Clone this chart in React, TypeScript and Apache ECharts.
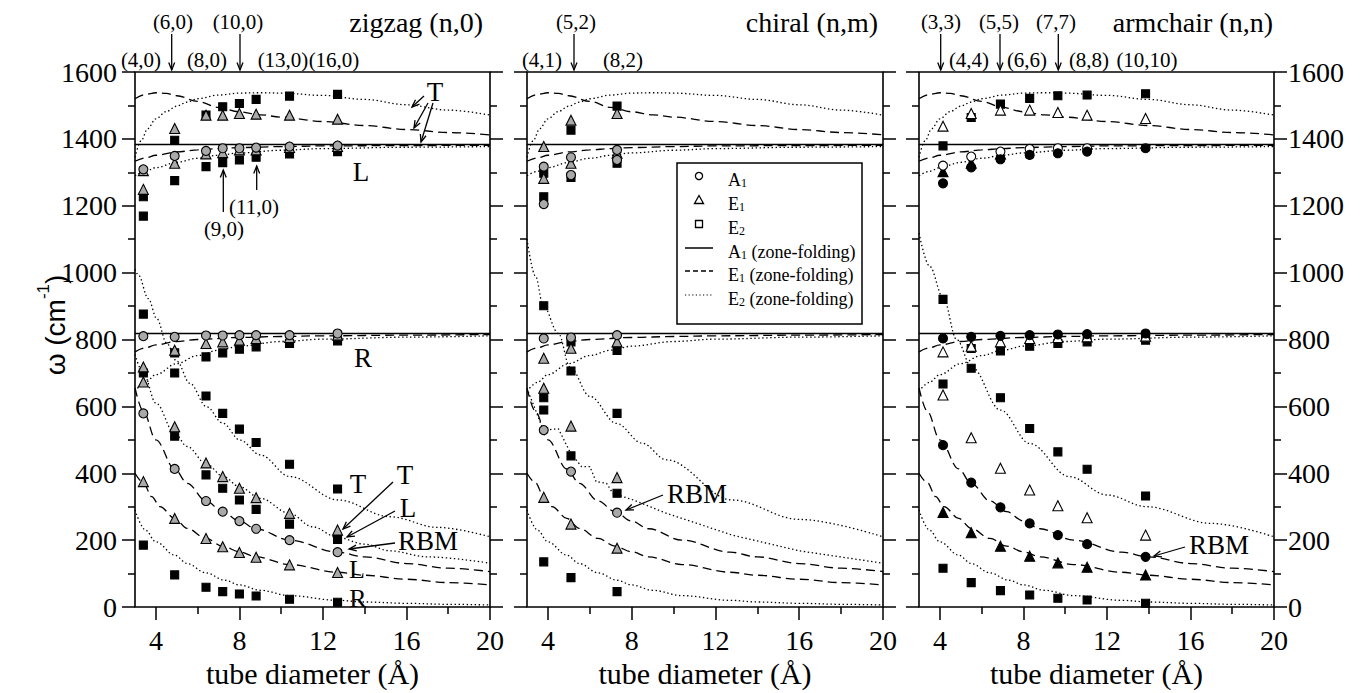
import React, { useEffect, useRef } from "react";
import * as echarts from "echarts";

// ---------- tube diameters (Å) ----------
const zigzagD = [3.4, 4.9, 6.4, 7.2, 8.0, 8.8, 10.4, 12.7];
const chiralD = [3.8, 5.1, 7.3];
const armD = [4.15, 5.5, 6.9, 8.3, 9.65, 11.05, 13.85];

// ---------- zigzag frequencies (cm-1) ----------
const zigzagA1Hi = [1309, 1349, 1364, 1372, 1372, 1374, 1377, 1380];
const zigzagA1Mid = [810, 808, 812, 812, 813, 813, 813, 818];
const zigzagA1Rbm = [579, 413, 317, 285, 257, 234, 200, 164];
const zigzagE1Top = [1249, 1431, 1471, 1471, 1476, 1474, 1471, 1459];
const zigzagE1Hi = [1305, 1327, 1355, 1359, 1367, 1367, 1374, 1377];
const zigzagE1Mid = [718, 768, 788, 793, 798, 803, 806, 813];
const zigzagE1T = [673, 539, 431, 390, 355, 327, 280, 230];
const zigzagE1L = [375, 265, 205, 180, 163, 149, 126, 103];
const zigzagE2Top = [1227, 1396, 1471, 1496, 1506, 1518, 1528, 1533];
const zigzagE2Hi = [1169, 1275, 1317, 1329, 1337, 1345, 1355, 1362];
const zigzagE2HL = [876, 700, 631, 579, 532, 492, 427, 353];
const zigzagE2Mid = [700, 760, 748, 760, 771, 778, 788, 796];
const zigzagE2T = [null, 511, 395, 355, 320, 292, 248, 202];
const zigzagE2R = [185, 96, 59, 46, 39, 33, 23, 14];

// ---------- chiral ----------
const chiralA1Hi = [1317, 1345, 1367];
const chiralA1Hi2 = [1205, 1292, 1337];
const chiralA1Mid = [803, 806, 813];
const chiralA1Rbm = [529, 405, 282];
const chiralE1Top = [1377, 1456, 1476];
const chiralE1Hi = [1282, 1327, 1357];
const chiralE1Mid = [744, 774, 793];
const chiralE1T = [654, 541, 387];
const chiralE1L = [328, 248, 176];
const chiralE2Top = [1297, 1426, 1498];
const chiralE2Hi = [1227, 1285, 1327];
const chiralE2HL = [901, 706, 579];
const chiralE2Mid = [626, 793, 767];
const chiralE2T = [589, 452, 340];
const chiralE2R = [135, 88, 46];

// ---------- armchair ----------
const armA1Open = [1320, 1347, 1362, 1370, 1372, 1372, null];
const armA1Hi = [1267, 1315, 1339, 1352, 1357, 1362, 1372];
const armA1Mid = [803, 808, 811, 813, 815, 816, 818];
const armA1Rbm = [484, 372, 298, 250, 215, 188, 150];
const armE1FilledHi = [1302, 1327, 1355, null, null, null, null];
const armE1L = [283, 222, 182, 152, 132, 119, 96];
const armE1Top = [1438, 1476, 1486, 1486, 1479, 1471, 1461];
const armE1Mid = [763, 780, 793, 803, 806, 808, 810];
const armE1Low = [634, 506, 415, 350, 303, 267, 215];
const armE2Top = [1379, 1464, 1504, 1521, 1529, 1531, 1535];
const armE2HL = [920, 714, 626, 534, 464, 412, 332];
const armE2Mid = [667, 773, 766, 780, 788, 793, 798];
const armE2R = [116, 73, 49, 36, 26, 21, 11];

// ---------- zone-folding curves [d, omega] ----------
const zfA1High = [[3, 1383], [20, 1383]];
const zfA1Low = [[3, 818], [20, 818]];
const zfE1Upper = [[3.0, 1520], [3.5, 1533], [4.0, 1538], [4.5, 1536], [5.0, 1529], [6.0, 1512], [7.0, 1494], [8.0, 1481], [9.0, 1472], [10, 1465], [12, 1452], [14, 1440], [16, 1428], [18, 1419], [20, 1412]];
const zfE2Upper = [[3.0, 1345], [3.3, 1395], [3.6, 1430], [4.0, 1460], [4.5, 1482], [5.0, 1498], [5.5, 1510], [6.0, 1520], [7.0, 1531], [8.0, 1537], [9.0, 1538], [10, 1537], [12, 1530], [14, 1518], [16, 1502], [18, 1486], [20, 1471]];
const zfE1HighRise = [[3.0, 1333], [3.5, 1343], [4, 1351], [5, 1361], [6, 1367], [7, 1371], [8, 1374], [10, 1377], [12, 1379], [16, 1380], [20, 1381]];
const zfE2HighRise = [[3.0, 1290], [3.5, 1303], [4, 1314], [5, 1330], [6, 1342], [7, 1351], [8, 1358], [10, 1366], [12, 1371], [16, 1375], [20, 1377]];
const zfE1LowRise = [[3.0, 763], [3.5, 775], [4, 784], [5, 794], [6, 800], [8, 806], [10, 809], [12, 811], [16, 813], [20, 815]];
const zfE2LowRise = [[3.0, 645], [3.5, 672], [4.0, 695], [5.0, 728], [6, 752], [7, 768], [8, 780], [10, 794], [12, 801], [16, 807], [20, 811]];
const zfRbm = [[3.0, 655], [3.4, 585], [4, 500], [4.9, 413], [5.5, 370], [6.4, 317], [7.2, 285], [8, 257], [8.8, 234], [10.4, 200], [12.7, 164], [14, 150], [16, 130], [18, 116], [20, 106]];
const zfL = [[3.0, 400], [3.4, 372], [3.8, 330], [4.2, 300], [4.9, 265], [5.5, 235], [6.4, 205], [7.2, 182], [8, 165], [8.8, 150], [10.4, 127], [12.7, 104], [14, 95], [16, 83], [18, 73], [20, 66]];
const zfR = [[3.0, 290], [3.5, 230], [4, 195], [4.9, 155], [5.5, 130], [6.4, 102], [7.3, 80], [8, 66], [9, 50], [10.4, 34], [12.7, 20], [14, 15], [16, 11], [18, 8], [20, 6]];
const zfTZigzag = [[3.0, 755], [3.4, 700], [4, 610], [4.9, 519], [5.5, 480], [6.4, 429], [7.2, 392], [8, 360], [9, 325], [10.4, 280], [11.5, 240], [12.7, 208], [14, 188], [15.2, 168], [17, 150], [20, 131]];
const zfTChiral = [[3.06, 644], [3.4, 590], [3.78, 529], [4.5, 533], [5.05, 464], [5.6, 420], [6.0, 420], [6.3, 375], [6.8, 370], [7.1, 340], [8.08, 320], [9.67, 280], [12.8, 215], [16, 168], [20, 131]];
const zfHLZigzag = [[3.0, 1010], [3.16, 993], [3.64, 922], [4.04, 863], [4.52, 789], [5.0, 735], [5.63, 669], [6.43, 599], [7.2, 550], [8.03, 499], [9, 455], [10.42, 390], [12.74, 320], [15.2, 270], [17.5, 238], [20, 210]];
const zfHLChiral = [[3.0, 1100], [3.4, 990], [3.78, 900], [4.5, 818], [5.05, 718], [6.0, 630], [7.28, 549], [8.5, 490], [9.66, 440], [12.8, 320], [16, 262], [20, 210]];
const zfHLArm = [[3.0, 1118], [3.5, 1020], [4.16, 925], [4.8, 800], [5.52, 718], [6.9, 589], [8.3, 489], [10.2, 390], [12, 335], [13.9, 300], [17, 250], [20, 210]];

// ---------- axis ticks / titles ----------
const xMajorTicks = [4, 8, 12, 16, 20];
const xMinorTicks = [6, 10, 14, 18];
const panelTitles = ["zigzag (n,0)", "chiral (n,m)", "armchair (n,n)"];
const xTitle = "tube diameter (Å)";

const SERIF = "Liberation Serif";
const SANS = "Liberation Sans";

const GRIDS = [
  { left: 135, width: 355 },
  { left: 527, width: 356 },
  { left: 919, width: 355 },
];
const TOP = 72;
const HEIGHT = 535;

function pairs(d: number[], v: (number | null)[]) {
  const out: number[][] = [];
  d.forEach((x, i) => {
    const y = v[i];
    if (y !== null && y !== undefined) out.push([x, y]);
  });
  return out;
}

function line(panel: number, data: number[][], kind: "solid" | "dashed" | "dotted", smooth = true) {
  const ls: any = { color: "#000", width: kind === "solid" ? 1.6 : 1.3 };
  if (kind === "dashed") ls.type = [9, 5];
  if (kind === "dotted") ls.type = [1.4, 2.6];
  return {
    type: "line",
    xAxisIndex: panel * 2,
    yAxisIndex: panel * 2,
    data,
    symbol: "none",
    showSymbol: false,
    smooth: smooth ? 0.35 : false,
    smoothMonotone: "x",
    lineStyle: ls,
    z: 3,
    silent: true,
  };
}

type Kind = "grayCircle" | "grayTri" | "blackSq" | "openCircle" | "blackCircle" | "openTri" | "blackTri";
function pts(panel: number, d: number[], v: (number | null)[], kind: Kind) {
  const map: Record<Kind, any> = {
    grayCircle: { symbol: "circle", size: 9, color: "#a9a9a9" },
    grayTri: { symbol: "triangle", size: 10, color: "#a9a9a9" },
    blackSq: { symbol: "rect", size: 8, color: "#000" },
    openCircle: { symbol: "circle", size: 9, color: "#fff" },
    blackCircle: { symbol: "circle", size: 9, color: "#000" },
    openTri: { symbol: "triangle", size: 10, color: "#fff" },
    blackTri: { symbol: "triangle", size: 10, color: "#000" },
  };
  const m = map[kind];
  return {
    type: "scatter",
    xAxisIndex: panel * 2,
    yAxisIndex: panel * 2,
    data: pairs(d, v),
    symbol: m.symbol,
    symbolSize: m.size,
    itemStyle: { color: m.color, borderColor: "#000", borderWidth: 1.1, opacity: 1 },
    z: 5,
    silent: true,
  };
}

function txt(x: number, y: number, text: string, size: number, align = "center", extra: any = {}) {
  return {
    type: "text",
    x,
    y,
    z: 50,
    style: {
      text,
      fontSize: size,
      fontFamily: SERIF,
      fill: "#000",
      align,
      verticalAlign: "middle",
      ...extra,
    },
  };
}

function arrow(x1: number, y1: number, x2: number, y2: number) {
  const ang = Math.atan2(y2 - y1, x2 - x1);
  const L = 8;
  const w = 0.38;
  const p1 = [x2 - L * Math.cos(ang - w), y2 - L * Math.sin(ang - w)];
  const p2 = [x2 - L * Math.cos(ang + w), y2 - L * Math.sin(ang + w)];
  return [
    { type: "line", z: 50, shape: { x1, y1, x2, y2 }, style: { stroke: "#000", lineWidth: 1.3 } },
    { type: "polyline", z: 50, shape: { points: [p1, [x2, y2], p2] }, style: { stroke: "#000", lineWidth: 1.3, fill: null } },
  ];
}

function buildOption() {
  const grid = GRIDS.map((g) => ({
    left: g.left,
    top: TOP,
    width: g.width,
    height: HEIGHT,
    show: true,
    borderColor: "#000",
    borderWidth: 1.6,
    backgroundColor: "#fff",
    containLabel: false,
    outerBoundsMode: "none",
  }));

  const tickLine = { color: "#000", width: 1.5 };
  const labelRich = { t: { fontFamily: SERIF, fontSize: 28, color: "#000", lineHeight: 30 } };
  const xAxis: any[] = [];
  const yAxis: any[] = [];
  GRIDS.forEach((_, i) => {
    xAxis.push({
      gridIndex: i,
      type: "value",
      min: 3,
      max: 20,
      position: "bottom",
      axisLine: { show: false },
      splitLine: { show: false },
      axisTick: { show: true, inside: false, length: 13, customValues: xMajorTicks, lineStyle: tickLine },
      axisLabel: {
        show: true,
        customValues: xMajorTicks,
        fontFamily: SERIF,
        fontSize: 28,
        color: "#000",
        margin: 18,
        formatter: (v: number) => "{t|" + v + "}",
        rich: labelRich,
      },
      name: "{n|" + xTitle + "}",
      nameLocation: "middle",
      nameGap: 51,
      nameTextStyle: {
        fontFamily: SERIF,
        fontSize: 30,
        color: "#000",
        rich: { n: { fontFamily: SERIF, fontSize: 30, color: "#000", lineHeight: 30 } },
      },
    });
    xAxis.push({
      gridIndex: i,
      type: "value",
      min: 3,
      max: 20,
      position: "bottom",
      axisLine: { show: false },
      splitLine: { show: false },
      axisTick: { show: true, inside: false, length: 7, customValues: xMinorTicks, lineStyle: tickLine },
      axisLabel: { show: false },
    });
    ["left", "right"].forEach((pos) => {
      const showLabel = (i === 0 && pos === "left") || (i === 2 && pos === "right");
      yAxis.push({
        gridIndex: i,
        type: "value",
        min: 0,
        max: 1600,
        interval: 200,
        position: pos,
        axisLine: { show: false },
        splitLine: { show: false },
        minorSplitLine: { show: false },
        axisTick: { show: true, inside: false, length: 13, lineStyle: tickLine },
        minorTick: { show: true, splitNumber: 2, length: 7, lineStyle: tickLine },
        axisLabel: {
          show: showLabel,
          fontFamily: SERIF,
          fontSize: 28,
          color: "#000",
          margin: pos === "left" ? 18 : 14,
          formatter: (v: number) => "{t|" + v + "}",
          rich: labelRich,
        },
      });
    });
  });

  const series: any[] = [];
  [0, 1, 2].forEach((p) => {
    series.push(line(p, zfA1High, "solid", false));
    series.push(line(p, zfA1Low, "solid", false));
    series.push(line(p, zfE1Upper, "dashed"));
    series.push(line(p, zfE2Upper, "dotted"));
    series.push(line(p, zfE1HighRise, "dashed"));
    series.push(line(p, zfE2HighRise, "dotted"));
    series.push(line(p, zfE1LowRise, "dashed"));
    series.push(line(p, zfE2LowRise, "dotted"));
    series.push(line(p, zfRbm, "dashed"));
    series.push(line(p, zfL, "dashed"));
    series.push(line(p, zfR, "dotted"));
  });
  series.push(line(0, zfTZigzag, "dotted"));
  series.push(line(1, zfTChiral, "dotted", false));
  series.push(line(0, zfHLZigzag, "dotted"));
  series.push(line(1, zfHLChiral, "dotted"));
  series.push(line(2, zfHLArm, "dotted"));

  [zigzagE2Top, zigzagE2Hi, zigzagE2HL, zigzagE2Mid, zigzagE2T, zigzagE2R].forEach((v) => series.push(pts(0, zigzagD, v, "blackSq")));
  [zigzagE1Top, zigzagE1Hi, zigzagE1Mid, zigzagE1T, zigzagE1L].forEach((v) => series.push(pts(0, zigzagD, v, "grayTri")));
  [zigzagA1Hi, zigzagA1Mid, zigzagA1Rbm].forEach((v) => series.push(pts(0, zigzagD, v, "grayCircle")));

  [chiralE2Top, chiralE2Hi, chiralE2HL, chiralE2Mid, chiralE2T, chiralE2R].forEach((v) => series.push(pts(1, chiralD, v, "blackSq")));
  [chiralE1Top, chiralE1Hi, chiralE1Mid, chiralE1T, chiralE1L].forEach((v) => series.push(pts(1, chiralD, v, "grayTri")));
  [chiralA1Hi, chiralA1Hi2, chiralA1Mid, chiralA1Rbm].forEach((v) => series.push(pts(1, chiralD, v, "grayCircle")));

  [armE2Top, armE2HL, armE2Mid, armE2R].forEach((v) => series.push(pts(2, armD, v, "blackSq")));
  [armE1Top, armE1Mid, armE1Low].forEach((v) => series.push(pts(2, armD, v, "openTri")));
  [armE1FilledHi, armE1L].forEach((v) => series.push(pts(2, armD, v, "blackTri")));
  series.push(pts(2, armD, armA1Open, "openCircle"));
  [armA1Hi, armA1Mid, armA1Rbm].forEach((v) => series.push(pts(2, armD, v, "blackCircle")));

  // ---------- graphic annotations ----------
  const g: any[] = [];
  g.push(txt(483, 22, panelTitles[0], 28, "right"));
  g.push(txt(878, 22, panelTitles[1], 28, "right"));
  g.push(txt(1273, 22, panelTitles[2], 28, "right"));
  const row1 = 22;
  const row2 = 60;
  [["(4,0)", 141, row2], ["(6,0)", 173, row1], ["(8,0)", 207, row2], ["(10,0)", 238, row1], ["(13,0)", 283, row2], ["(16,0)", 334, row2],
   ["(4,1)", 542, row2], ["(5,2)", 576, row1], ["(8,2)", 623, row2],
   ["(3,3)", 941, row1], ["(4,4)", 969, row2], ["(5,5)", 999, row1], ["(6,6)", 1027, row2], ["(7,7)", 1056, row1], ["(8,8)", 1089, row2], ["(10,10)", 1147, row2]]
    .forEach(([t, x, y]) => g.push(txt(x as number, y as number, t as string, 21)));
  [171.7, 240, 574, 940.7, 1000, 1058.3].forEach((x) => g.push(...arrow(x, 34, x, 70)));

  g.push(txt(435, 92, "T", 27));
  g.push(...arrow(424, 96, 412, 107));
  g.push(...arrow(428, 103, 414, 128));
  g.push(...arrow(433, 103, 421, 142));
  g.push(txt(361, 172, "L", 27));
  g.push(txt(224, 229, "(9,0)", 21));
  g.push(...arrow(223.3, 212, 223.3, 170));
  g.push(txt(254, 207, "(11,0)", 21));
  g.push(...arrow(256.7, 190, 256.7, 166));
  g.push(txt(363, 358, "R", 27));
  g.push(txt(358, 484, "T", 27));
  g.push(txt(405, 475, "T", 27));
  g.push(...arrow(393, 482, 343, 529));
  g.push(txt(408, 508, "L", 27));
  g.push(...arrow(395, 511, 347, 537));
  g.push(txt(428, 541, "RBM", 27));
  g.push(...arrow(395, 543, 349, 549));
  g.push(txt(357, 569, "L", 26, "center", { lineHeight: 24 }));
  g.push(txt(358, 598, "R", 26, "center", { lineHeight: 24 }));
  g.push(txt(697, 494, "RBM", 27));
  g.push(...arrow(663, 495, 626, 510));
  g.push(txt(1219, 545, "RBM", 27));
  g.push(...arrow(1185, 547, 1154, 556));

  // y axis title
  g.push({
    type: "text",
    x: 52,
    y: 325,
    rotation: Math.PI / 2,
    z: 50,
    style: {
      text: "{b|ω (cm}{s|-1}{b|)}",
      fill: "#000",
      align: "center",
      verticalAlign: "middle",
      rich: {
        b: { fontFamily: SANS, fontSize: 28, lineHeight: 34, verticalAlign: "bottom", fill: "#000" },
        s: { fontFamily: SANS, fontSize: 17, lineHeight: 17, verticalAlign: "top", fill: "#000" },
      },
    },
  });

  // legend
  const lx = 677;
  const ly = 163;
  g.push({ type: "rect", z: 60, shape: { x: lx, y: ly, width: 185, height: 161 }, style: { fill: "#fff", stroke: "#000", lineWidth: 1.5 } });
  const rowY = [176, 200, 224, 248, 271, 295];
  const mx = 699;
  g.push({ type: "circle", z: 61, shape: { cx: mx, cy: rowY[0], r: 3.6 }, style: { fill: "#fff", stroke: "#000", lineWidth: 1.3 } });
  g.push({ type: "polygon", z: 61, shape: { points: [[mx, rowY[1] - 4.5], [mx - 4.5, rowY[1] + 3.5], [mx + 4.5, rowY[1] + 3.5]] }, style: { fill: "#fff", stroke: "#000", lineWidth: 1.3 } });
  g.push({ type: "rect", z: 61, shape: { x: mx - 3.5, y: rowY[2] - 3.5, width: 7, height: 7 }, style: { fill: "#fff", stroke: "#000", lineWidth: 1.3 } });
  g.push({ type: "line", z: 61, shape: { x1: 685, y1: rowY[3], x2: 713, y2: rowY[3] }, style: { stroke: "#000", lineWidth: 1.5 } });
  g.push({ type: "line", z: 61, shape: { x1: 685, y1: rowY[4], x2: 713, y2: rowY[4] }, style: { stroke: "#000", lineWidth: 1.5, lineDash: [5, 3] } });
  g.push({ type: "line", z: 61, shape: { x1: 685, y1: rowY[5], x2: 713, y2: rowY[5] }, style: { stroke: "#000", lineWidth: 1.2, lineDash: [1.2, 2.4] } });
  const legRich = {
    m: { fontFamily: SERIF, fontSize: 18, lineHeight: 22, verticalAlign: "bottom", fill: "#000" },
    s: { fontFamily: SERIF, fontSize: 12, lineHeight: 12, verticalAlign: "bottom", fill: "#000" },
  };
  const legTexts = [
    "{m|A}{s|1}",
    "{m|E}{s|1}",
    "{m|E}{s|2}",
    "{m|A}{s|1}{m| (zone-folding)}",
    "{m|E}{s|1}{m| (zone-folding)}",
    "{m|E}{s|2}{m| (zone-folding)}",
  ];
  legTexts.forEach((t, i) => {
    g.push({ type: "text", z: 61, x: 728, y: rowY[i] + 2, style: { text: t, align: "left", verticalAlign: "middle", rich: legRich, fill: "#000" } });
  });

  return {
    animation: false,
    backgroundColor: "#fff",
    textStyle: { fontFamily: SERIF, color: "#000" },
    grid,
    xAxis,
    yAxis,
    series,
    graphic: { elements: g },
  };
}

export default function App() {
  const ref = useRef<HTMLDivElement>(null);
  useEffect(() => {
    if (!ref.current) return;
    const chart = echarts.init(ref.current, null, { renderer: "svg" });
    chart.setOption(buildOption() as any);
    return () => chart.dispose();
  }, []);
  return (
    <div
      ref={ref}
      style={{ position: "absolute", left: 0, top: 0, width: 1370, height: 693, background: "#fff" }}
    />
  );
}
